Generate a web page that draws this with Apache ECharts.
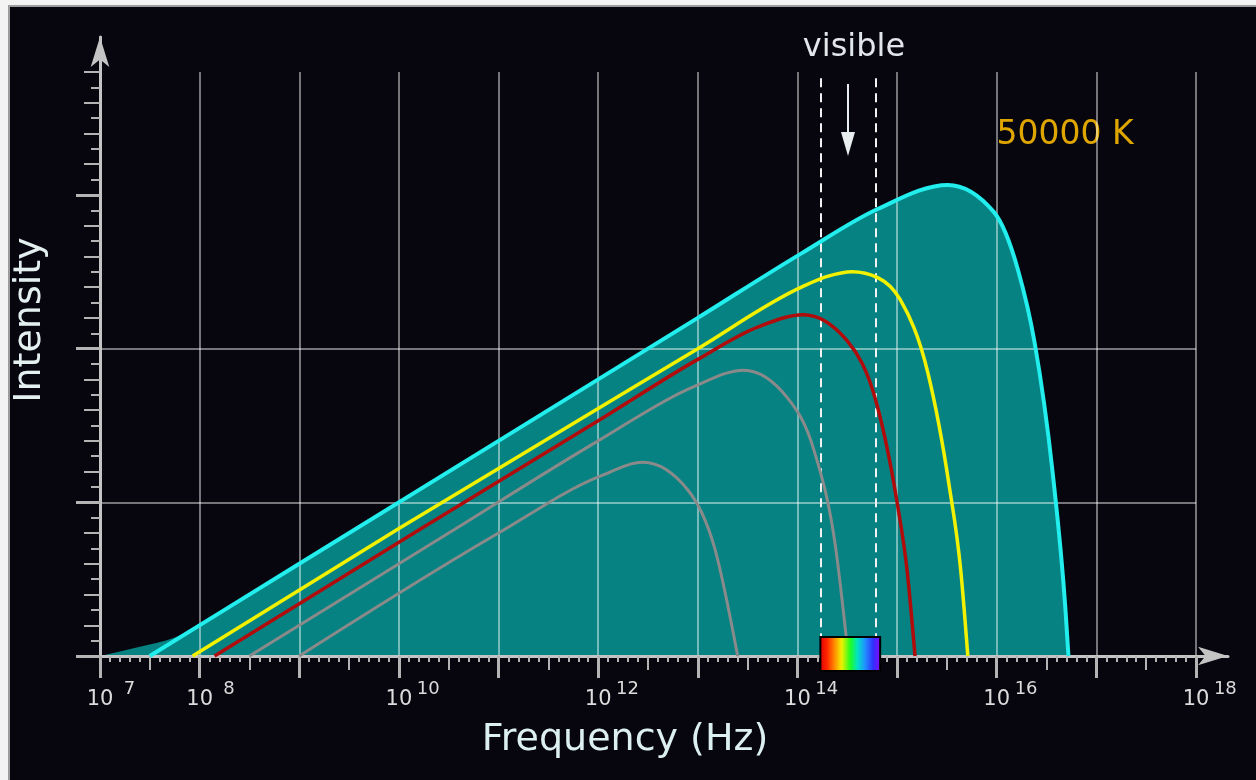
<!DOCTYPE html>
<html lang="en">
<head>
<meta charset="UTF-8">
<title>blackbody</title>
<script src="https://cdn.jsdelivr.net/npm/echarts@6/dist/echarts.min.js"></script>
<style>
    html, body { margin: 0; padding: 0; width: 1256px; height: 780px; overflow: hidden; background: #f3f3f3; }
    #frame { position: absolute; left: 8px; top: 5px; width: 1260px; height: 790px; box-sizing: border-box;
             border: 2px solid #9c9c9c; background: #07050e; }
    #main { position: absolute; left: 0; top: 0; width: 1256px; height: 780px; }
</style>
</head>
<body>
<div id="frame"></div>
<div id="main"></div>
<script>
    // x = log10(frequency in Hz), y = intensity in grid units
    var xLabelExps = [7, 8, 10, 12, 14, 16, 18];
    var visibleBand = [14.23, 14.79];

    var curve50000 = [[7.5, 0], [9, 0.6], [11, 1.4], [13, 2.2], [14.04, 2.62], [14.81, 2.91],
        [15.51, 3.065], [15.97, 2.89], [16.21, 2.52], [16.38, 2.04], [16.56, 1.2], [16.69, 0.3], [16.72, 0]];
    var curveYellow = [[7.93, 0], [10, 0.83], [12, 1.61], [13, 2.0], [14.04, 2.4], [14.3, 2.47],
        [14.55, 2.5], [14.81, 2.46], [15.03, 2.32], [15.31, 1.84], [15.52, 1.12], [15.64, 0.55], [15.71, 0]];
    var curveRed = [[8.15, 0], [10.2, 0.82], [12, 1.53], [13, 1.93], [13.6, 2.14], [14.06, 2.22],
        [14.5, 2.05], [14.8, 1.63], [15.0, 1.0], [15.1, 0.56], [15.18, 0]];
    var curveGrayA = [[8.5, 0], [10.5, 0.8], [12, 1.4], [12.95, 1.75], [13.46, 1.86], [13.9, 1.68],
        [14.17, 1.33], [14.38, 0.72], [14.51, 0]];
    var curveGrayB = [[9.0, 0], [11, 0.8], [12.02, 1.17], [12.45, 1.26], [12.9, 1.08], [13.17, 0.7], [13.4, 0]];
    // left shoulder of the filled area, before it meets the 50000 K curve
    var fillShoulder = [[7, 0], [7.4, 0.06], [7.75, 0.12], [7.95, 0.18]];

    var myChart = echarts.init(document.getElementById('main'), null, { renderer: 'canvas' });

    var tickColor = '#b4b4b4';
    var gridColor = 'rgba(255,255,255,0.45)';
    var font = 'DejaVu Sans';

    // monotone cubic (like d3 curveMonotoneX) through pixel points -> svg path
    function monotonePath(p) {
        var n = p.length, h = [], s = [], m = [], i;
        for (i = 0; i < n - 1; i++) {
            h[i] = p[i + 1][0] - p[i][0];
            s[i] = (p[i + 1][1] - p[i][1]) / h[i];
        }
        for (i = 1; i < n - 1; i++) {
            var q = (s[i - 1] * h[i] + s[i] * h[i - 1]) / (h[i - 1] + h[i]);
            m[i] = (Math.sign(s[i - 1]) + Math.sign(s[i])) *
                Math.min(Math.abs(s[i - 1]), Math.abs(s[i]), 0.5 * Math.abs(q)) || 0;
        }
        m[0] = n > 2 ? (3 * s[0] - m[1]) / 2 : s[0];
        m[n - 1] = n > 2 ? (3 * s[n - 2] - m[n - 2]) / 2 : s[n - 2];
        var d = 'M' + p[0][0] + ',' + p[0][1];
        for (i = 0; i < n - 1; i++) {
            var dx = h[i] / 3;
            d += 'C' + (p[i][0] + dx) + ',' + (p[i][1] + dx * m[i]) + ',' +
                (p[i + 1][0] - dx) + ',' + (p[i + 1][1] - dx * m[i + 1]) + ',' +
                p[i + 1][0] + ',' + p[i + 1][1];
        }
        return d;
    }

    function curve(name, data, color, width, z) {
        return {
            name: name, type: 'custom', data: data, xAxisIndex: 0, yAxisIndex: 0, z: z || 5,
            encode: { x: 0, y: 1 },
            renderItem: function (params, api) {
                if (params.dataIndex !== 0) return null;
                var px = data.map(function (d) { return api.coord(d); });
                return {
                    type: 'path', shape: { pathData: monotonePath(px) },
                    style: { fill: null, stroke: color, lineWidth: width, lineJoin: 'round' }
                };
            }
        };
    }

    function area(name, data) {
        return {
            name: name, type: 'custom', data: data, xAxisIndex: 0, yAxisIndex: 0, z: 1,
            encode: { x: 0, y: 1 },
            renderItem: function (params, api) {
                if (params.dataIndex !== 0) return null;
                var px = data.map(function (d) { return api.coord(d); });
                var base = api.coord([data[0][0], 0])[1];
                var d = monotonePath(px) + 'L' + px[px.length - 1][0] + ',' + base +
                    'L' + px[0][0] + ',' + base + 'Z';
                return { type: 'path', shape: { pathData: d }, style: { fill: '#068282', stroke: null } };
            }
        };
    }

    var option = {
        backgroundColor: 'transparent',
        animation: false,
        grid: [
            { left: 100, right: 60, top: 72, bottom: 124, outerBoundsMode: 'none' },
            { left: 100, right: 28, top: 37, bottom: 124, outerBoundsMode: 'none' }
        ],
        xAxis: [
            {
                type: 'value', gridIndex: 0, position: 'bottom', min: 7, max: 18, interval: 1, z: 3,
                axisLine: { show: false, onZero: false },
                axisTick: { show: true, length: 22, lineStyle: { color: tickColor, width: 3 } },
                splitLine: { show: true, lineStyle: { color: gridColor, width: 2 } },
                axisLabel: {
                    show: true, margin: 24, showMinLabel: true, showMaxLabel: true, hideOverlap: false,
                    formatter: function (v) {
                        var e = Math.round(v);
                        if (Math.abs(v - e) > 1e-6 || xLabelExps.indexOf(e) < 0) return '';
                        return '{p|}{b|10}{s|' + e + '}';
                    },
                    rich: {
                        p: { width: 28 },
                        b: { fontSize: 21, color: '#dcdcdc', fontFamily: font, lineHeight: 30, verticalAlign: 'bottom' },
                        s: { fontSize: 18, color: '#dcdcdc', fontFamily: font, lineHeight: 30, width: 24,
                             align: 'left', padding: [0, 0, 0, 4], verticalAlign: 'top' }
                    }
                }
            },
            {
                type: 'value', gridIndex: 0, position: 'bottom', min: 7, max: 18, interval: 0.5, z: 3,
                axisLine: { show: false, onZero: false },
                axisTick: { show: true, length: 14, lineStyle: { color: tickColor, width: 2 } },
                minorTick: { show: true, splitNumber: 5, length: 6, lineStyle: { color: tickColor, width: 2 } },
                splitLine: { show: false },
                axisLabel: { show: false }
            },
            {
                type: 'value', gridIndex: 1, position: 'bottom', min: 0, max: 1, z: 3,
                axisLine: { show: true, onZero: false, symbol: ['none', 'arrow'], symbolSize: [14, 30],
                            lineStyle: { color: '#c4c4c4', width: 3 } },
                axisTick: { show: false }, axisLabel: { show: false }, splitLine: { show: false }
            }
        ],
        yAxis: [
            {
                type: 'value', gridIndex: 0, position: 'left', min: 0, max: 3.8, interval: 1, z: 3,
                axisLine: { show: false, onZero: false },
                axisTick: { show: true, length: 24, customValues: [0, 1, 2, 3],
                            lineStyle: { color: tickColor, width: 3 } },
                splitLine: { show: true, showMinLine: false, showMaxLine: false,
                             lineStyle: { color: gridColor, width: 2 } },
                axisLabel: { show: false }
            },
            {
                type: 'value', gridIndex: 0, position: 'left', offset: 0, min: 0, max: 3.8, interval: 0.2, z: 3,
                axisLine: { show: false, onZero: false },
                axisTick: { show: true, length: 16, lineStyle: { color: tickColor, width: 2 } },
                minorTick: { show: true, splitNumber: 2, length: 9, lineStyle: { color: tickColor, width: 2 } },
                splitLine: { show: false },
                axisLabel: { show: false }
            },
            {
                type: 'value', gridIndex: 1, position: 'left', min: 0, max: 1, z: 3,
                axisLine: { show: true, onZero: false, symbol: ['none', 'arrow'], symbolSize: [14, 30],
                            lineStyle: { color: '#c4c4c4', width: 3 } },
                axisTick: { show: false }, axisLabel: { show: false }, splitLine: { show: false }
            }
        ],
        graphic: [
            {
                type: 'text', x: 30, y: 320, rotation: Math.PI / 2,
                style: { text: 'Intensity', font: '38px "DejaVu Sans"', fill: '#e4f0f0',
                         textAlign: 'center', textVerticalAlign: 'middle' }
            },
            {
                type: 'text', x: 625, y: 740,
                style: { text: 'Frequency (Hz)', font: '38px "DejaVu Sans"', fill: '#dcf0f0',
                         textAlign: 'center', textVerticalAlign: 'middle' }
            },
            {
                type: 'text', x: 854, y: 48,
                style: { text: 'visible', font: '32px "DejaVu Sans"', fill: '#e2e6ea',
                         textAlign: 'center', textVerticalAlign: 'middle' }
            },
            {
                type: 'line', shape: { x1: 848, y1: 84, x2: 848, y2: 140 },
                style: { stroke: '#e8eef0', lineWidth: 2 }
            },
            {
                type: 'polygon', shape: { points: [[841, 132], [855, 132], [848, 156]] },
                style: { fill: '#e8eef0' }
            },
            {
                type: 'text', x: 1065, y: 135,
                style: { text: '50000 K', font: '33px "DejaVu Sans"', fill: '#dfa600',
                         textAlign: 'center', textVerticalAlign: 'middle' }
            }
        ],
        series: [
            area('fill', curve50000),
            area('fill shoulder', fillShoulder),
            curve('gray B', curveGrayB, '#8a8a8a', 3),
            curve('gray A', curveGrayA, '#8a8a8a', 3),
            curve('red', curveRed, '#b00c0c', 3.5),
            curve('yellow', curveYellow, '#f2f200', 3.5),
            curve('50000 K', curve50000, '#22eeee', 4),
            {
                name: 'visible band', type: 'line', data: [], xAxisIndex: 0, yAxisIndex: 0, z: 6,
                markLine: {
                    silent: true, symbol: ['none', 'none'], label: { show: false },
                    lineStyle: { color: '#f2f2f2', width: 2, type: [9, 6] },
                    data: visibleBand.map(function (x) {
                        return [{ coord: [x, 3.76] }, { coord: [x, 0] }];
                    })
                }
            },
            {
                name: 'spectrum', type: 'custom', xAxisIndex: 0, yAxisIndex: 0, clip: false, z: 8,
                data: [visibleBand],
                renderItem: function (params, api) {
                    var a = api.coord([api.value(0), 0]);
                    var b = api.coord([api.value(1), 0]);
                    return {
                        type: 'rect',
                        shape: { x: a[0], y: a[1] - 19, width: b[0] - a[0] + 4, height: 34 },
                        style: {
                            fill: new echarts.graphic.LinearGradient(0, 0, 1, 0, [
                                { offset: 0, color: '#d80000' },
                                { offset: 0.12, color: '#ff2200' },
                                { offset: 0.25, color: '#ff9000' },
                                { offset: 0.36, color: '#f0f000' },
                                { offset: 0.5, color: '#22ff22' },
                                { offset: 0.62, color: '#00e0c8' },
                                { offset: 0.74, color: '#2090ff' },
                                { offset: 0.87, color: '#3030ff' },
                                { offset: 1, color: '#9000ff' }
                            ]),
                            stroke: '#000', lineWidth: 2
                        }
                    };
                }
            }
        ]
    };

    myChart.setOption(option);

    window.addEventListener('resize', function () {
        myChart.resize();
    });
</script>
</body>
</html>
